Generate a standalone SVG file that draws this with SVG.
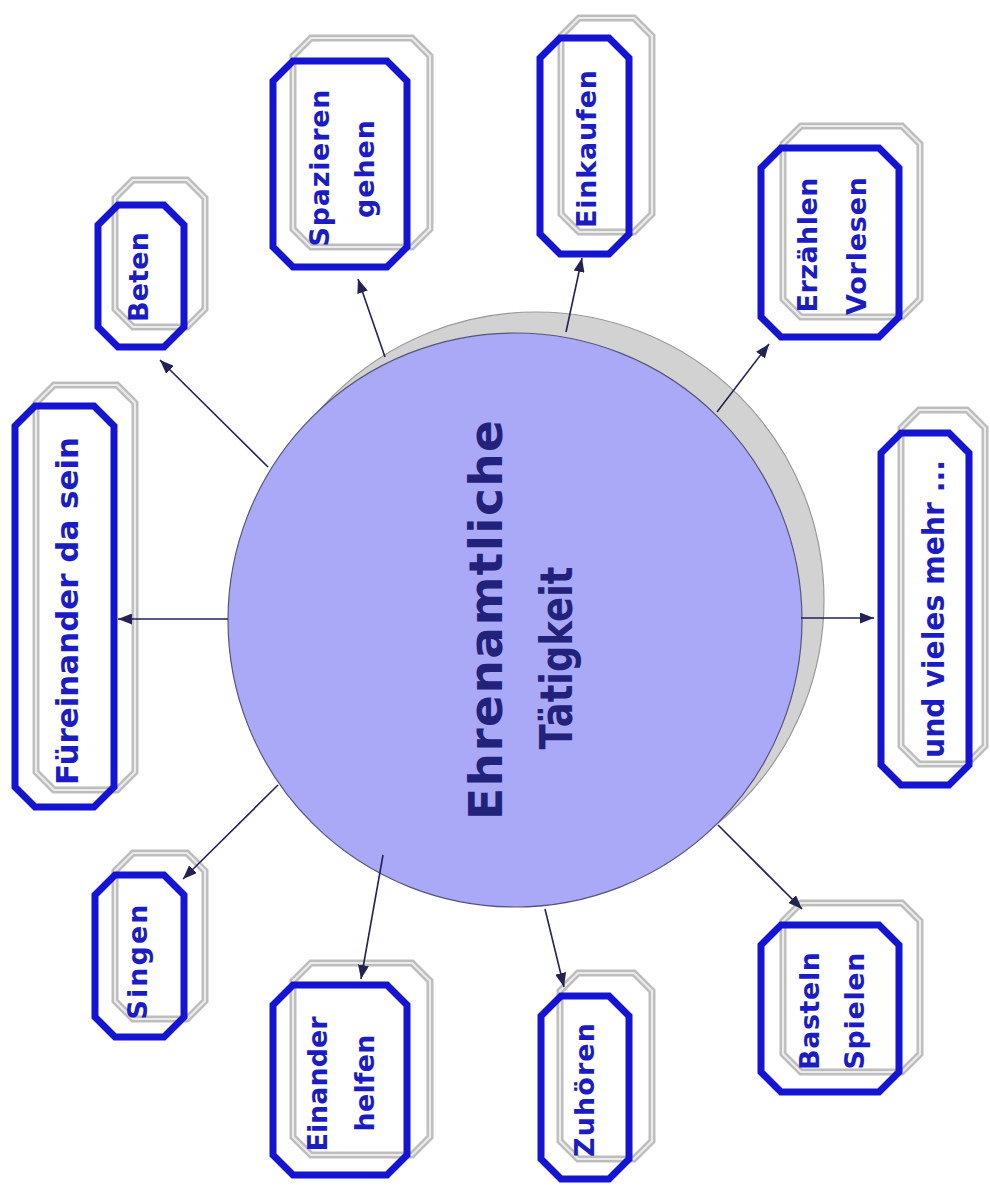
<svg xmlns="http://www.w3.org/2000/svg" width="990" height="1193" viewBox="0 0 990 1193">
<style>
.g1{fill:none;stroke:#bdbdbd;stroke-width:7;stroke-linejoin:miter}
.g2{fill:none;stroke:#ebebeb;stroke-width:2.2}
.b{fill:none;stroke:#1414d2;stroke-width:7;stroke-linejoin:miter}
.t{font-family:"DejaVu Sans",Verdana,sans-serif;font-weight:bold;fill:#1c1cc4;text-anchor:middle}
.title{font-family:"DejaVu Sans",Verdana,sans-serif;font-weight:bold;fill:#22227a;text-anchor:middle;font-size:47px}
.c{stroke:#222255;stroke-width:1.6;fill:none;marker-end:url(#ah)}
</style>
<defs>
<marker id="ah" markerUnits="userSpaceOnUse" markerWidth="15" markerHeight="11" refX="14" refY="5.5" orient="auto">
<path d="M0,0 L14,5.5 L0,11 z" fill="#222255"/>
</marker>
</defs>
<rect width="990" height="1193" fill="#ffffff"/>
<g id="center">
<circle cx="536" cy="600" r="288" fill="#d2d2d2" stroke="#9a9a9a" stroke-width="1.2"/>
<circle cx="515" cy="620" r="287" fill="#a9a9f7" stroke="#55557a" stroke-width="1.2"/>
<text class="title" transform="translate(502,620) rotate(-90)" textLength="400">Ehrenamtliche</text>
<text class="title" style="font-size:45px" transform="translate(572,658) rotate(-90)" textLength="183" lengthAdjust="spacingAndGlyphs">Tätigkeit</text>
</g>
<g id="n-fuereinander">
<polygon class="g1" points="54,385 117,385 135,403 135,772 117,790 54,790 36,772 36,403"/>
<polygon class="g2" points="54,385 117,385 135,403 135,772 117,790 54,790 36,772 36,403"/>
<polygon class="b" points="35,406 94,406 114,426 114,787 94,807 35,807 15,787 15,426"/>
<text class="t" style="font-size:31px" transform="translate(78,611) rotate(-90)" textLength="348" lengthAdjust="spacingAndGlyphs">Füreinander da sein</text>
</g>
<g id="n-beten">
<polygon class="g1" points="133,180 187,180 205,198 205,309 187,327 133,327 115,309 115,198"/>
<polygon class="g2" points="133,180 187,180 205,198 205,309 187,327 133,327 115,309 115,198"/>
<polygon class="b" points="118,205 164,205 184,225 184,327 164,347 118,347 98,327 98,225"/>
<text class="t" style="font-size:27px" transform="translate(148,277) rotate(-90)" textLength="90">Beten</text>
</g>
<g id="n-spazieren">
<polygon class="g1" points="311,38 412,38 430,56 430,229 412,247 311,247 293,229 293,56"/>
<polygon class="g2" points="311,38 412,38 430,56 430,229 412,247 311,247 293,229 293,56"/>
<polygon class="b" points="293,61 387,61 407,81 407,247 387,267 293,267 273,247 273,81"/>
<text class="t" style="font-size:27px" transform="translate(329,168) rotate(-90)" textLength="157">Spazieren</text>
<text class="t" style="font-size:27px" transform="translate(374,169) rotate(-90)" textLength="98">gehen</text>
</g>
<g id="n-einkaufen">
<polygon class="g1" points="579,18 634,18 652,36 652,214 634,232 579,232 561,214 561,36"/>
<polygon class="g2" points="579,18 634,18 652,36 652,214 634,232 579,232 561,214 561,36"/>
<polygon class="b" points="560,38 609,38 629,58 629,234 609,254 560,254 540,234 540,58"/>
<text class="t" style="font-size:27px" transform="translate(596,149) rotate(-90)" textLength="158">Einkaufen</text>
</g>
<g id="n-erzaehlen">
<polygon class="g1" points="801,126 902,126 920,144 920,299 902,317 801,317 783,299 783,144"/>
<polygon class="g2" points="801,126 902,126 920,144 920,299 902,317 801,317 783,299 783,144"/>
<polygon class="b" points="781,148 879,148 899,168 899,317 879,337 781,337 761,317 761,168"/>
<text class="t" style="font-size:27px" transform="translate(817,245) rotate(-90)" textLength="135">Erzählen</text>
<text class="t" style="font-size:27px" transform="translate(866,246) rotate(-90)" textLength="138">Vorlesen</text>
</g>
<g id="n-vieles">
<polygon class="g1" points="919,410 967,410 985,428 985,746 967,764 919,764 901,746 901,428"/>
<polygon class="g2" points="919,410 967,410 985,428 985,746 967,764 919,764 901,746 901,428"/>
<polygon class="b" points="901,433 949,433 969,453 969,765 949,785 901,785 881,765 881,453"/>
<text class="t" style="font-size:31px" transform="translate(944,609) rotate(-90)" textLength="298" lengthAdjust="spacingAndGlyphs">und vieles mehr ...</text>
</g>
<g id="n-basteln">
<polygon class="g1" points="801,903 902,903 920,921 920,1054 902,1072 801,1072 783,1054 783,921"/>
<polygon class="g2" points="801,903 902,903 920,921 920,1054 902,1072 801,1072 783,1054 783,921"/>
<polygon class="b" points="781,925 879,925 899,945 899,1072 879,1092 781,1092 761,1072 761,945"/>
<text class="t" style="font-size:27px" transform="translate(819,1011) rotate(-90)" textLength="118">Basteln</text>
<text class="t" style="font-size:27px" transform="translate(864,1011) rotate(-90)" textLength="117">Spielen</text>
</g>
<g id="n-zuhoeren">
<polygon class="g1" points="578,973 634,973 652,991 652,1141 634,1159 578,1159 560,1141 560,991"/>
<polygon class="g2" points="578,973 634,973 652,991 652,1141 634,1159 578,1159 560,1141 560,991"/>
<polygon class="b" points="561,996 609,996 629,1016 629,1159 609,1179 561,1179 541,1159 541,1016"/>
<text class="t" style="font-size:27px" transform="translate(594,1090) rotate(-90)" textLength="134">Zuhören</text>
</g>
<g id="n-einander">
<polygon class="g1" points="311,963 412,963 430,981 430,1137 412,1155 311,1155 293,1137 293,981"/>
<polygon class="g2" points="311,963 412,963 430,981 430,1137 412,1155 311,1155 293,1137 293,981"/>
<polygon class="b" points="293,985 387,985 407,1005 407,1155 387,1175 293,1175 273,1155 273,1005"/>
<text class="t" style="font-size:27px" transform="translate(327,1084) rotate(-90)" textLength="135">Einander</text>
<text class="t" style="font-size:27px" transform="translate(374,1083) rotate(-90)" textLength="97">helfen</text>
</g>
<g id="n-singen">
<polygon class="g1" points="133,853 187,853 205,871 205,1001 187,1019 133,1019 115,1001 115,871"/>
<polygon class="g2" points="133,853 187,853 205,871 205,1001 187,1019 133,1019 115,1001 115,871"/>
<polygon class="b" points="115,875 164,875 184,895 184,1017 164,1037 115,1037 95,1017 95,895"/>
<text class="t" style="font-size:27px" transform="translate(147,962) rotate(-90)" textLength="115">Singen</text>
</g>
<g id="connectors">
<line class="c" x1="228" y1="619" x2="118" y2="619"/>
<line class="c" x1="268" y1="467" x2="160" y2="360"/>
<line class="c" x1="385" y1="357" x2="358" y2="279"/>
<line class="c" x1="566" y1="332" x2="582" y2="258"/>
<line class="c" x1="717" y1="412" x2="769" y2="344"/>
<line class="c" x1="801" y1="618" x2="874" y2="618"/>
<line class="c" x1="718" y1="825" x2="802" y2="909"/>
<line class="c" x1="545" y1="909" x2="564" y2="987"/>
<line class="c" x1="383" y1="855" x2="361" y2="979"/>
<line class="c" x1="278" y1="785" x2="183" y2="879"/>
</g>
</svg>
